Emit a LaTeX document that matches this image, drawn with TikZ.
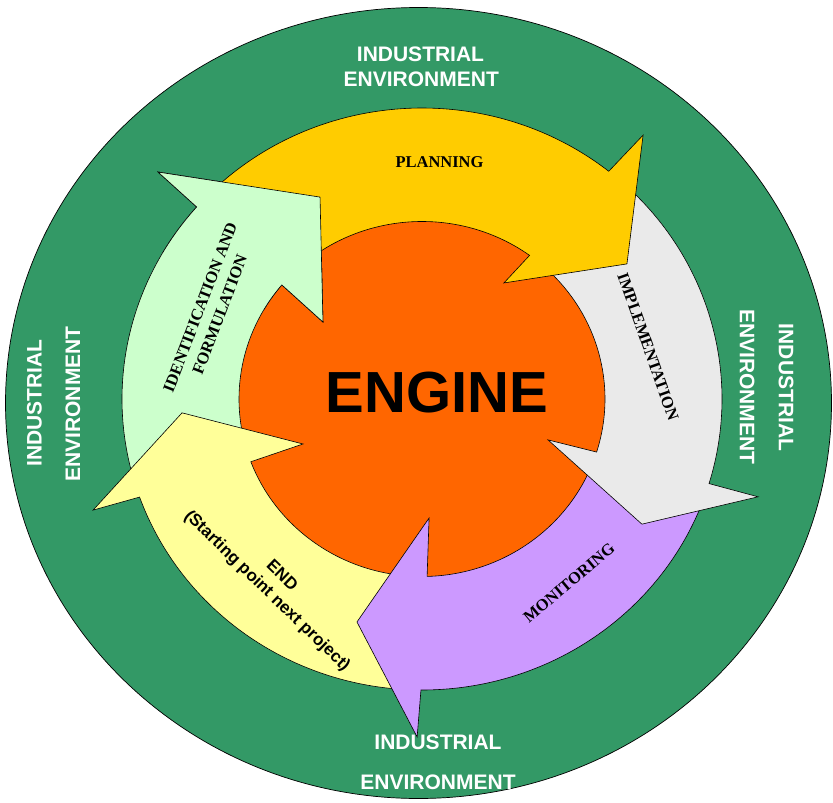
\documentclass[tikz,border=0pt]{standalone}
\usepackage{fontspec}
\setmainfont{Liberation Serif}
\setsansfont{Liberation Sans}
\definecolor{envgreen}{HTML}{339966}
\definecolor{engorange}{HTML}{FF6600}
\definecolor{planyellow}{HTML}{FFCC00}
\definecolor{implgray}{HTML}{EAEAEA}
\definecolor{monpurple}{HTML}{CC99FF}
\definecolor{endyellow}{HTML}{FFFF99}
\definecolor{idgreen}{HTML}{CCFFCC}
\tikzset{
  arrowshape/.style={draw=black, line width=0.6pt, line join=miter},
  envlabel/.style={text=white, font=\sffamily\bfseries\fontsize{21}{24}\selectfont, inner sep=0pt},
  steplabel/.style={font=\rmfamily\bfseries\fontsize{16.5}{21}\selectfont, inner sep=0pt, align=center},
  endlabel/.style={font=\sffamily\bfseries\fontsize{17}{21}\selectfont, inner sep=0pt, align=center}
}
\begin{document}
\begin{tikzpicture}[x=1pt,y=1pt]
\useasboundingbox (0,-803) rectangle (833,0);
% outer environment ring
\draw[fill=envgreen, line width=0.7pt] (418.5,-403) ellipse [x radius=413, y radius=395.5];
\begin{scope}[shift={(422,-399)}, yscale=0.97]
  % engine
  \draw[fill=engorange, line width=0.6pt] (0,0) circle[radius=184];
  % identification and formulation
  \path[arrowshape, fill=idgreen] (195:183) arc[start angle=195, end angle=140, radius=183]
    -- (141.3:126.9) -- (116.1:231.8) -- (138.45:352.8) -- (138.7:300)
    arc[start angle=138.7, end angle=195, radius=300] -- cycle;
  % end
  \path[arrowshape, fill=endyellow] (266:183) arc[start angle=266, end angle=200.7, radius=183]
    -- (201.3:127.7) -- (183.4:240.4) -- (199.2:348.3) -- (199.7:300)
    arc[start angle=199.7, end angle=266, radius=300] -- cycle;
  % monitoring
  \path[arrowshape, fill=monpurple] (-20:183) arc[start angle=-20, end angle=-88.4, radius=183]
    -- (-86.7:122.9) -- (-105.8:238.9) -- (-90.8:348.5) -- (-90.2:300)
    arc[start angle=-90.2, end angle=-20, radius=300] -- cycle;
  % implementation
  \path[arrowshape, fill=implgray] (47:183) arc[start angle=47, end angle=-17.4, radius=183]
    -- (-18.5:132.9) -- (-30.4:255) -- (-16.7:350.9) -- (-16.9:300)
    arc[start angle=-16.9, end angle=47, radius=300] -- cycle;
  % planning
  \path[arrowshape, fill=planyellow] (134:183) arc[start angle=134, end angle=54, radius=183]
    -- (55.6:145) -- (34.2:247.8) -- (50.9:350.6) -- (51.5:300)
    arc[start angle=51.5, end angle=134, radius=300] -- cycle;
  % head of identification arrow over the tail of planning
  \begin{scope}
    \clip (0,0) -- (150:420) arc[start angle=150, end angle=104, radius=420] -- cycle;
    \path[arrowshape, fill=idgreen] (195:183) arc[start angle=195, end angle=140, radius=183]
      -- (141.3:126.9) -- (116.1:231.8) -- (138.45:352.8) -- (138.7:300)
      arc[start angle=138.7, end angle=195, radius=300] -- cycle;
  \end{scope}
\end{scope}
% labels
\node[font=\sffamily\bfseries\fontsize{58}{60}\selectfont, inner sep=0pt] (engine) at (437,-392.5) {ENGINE};
\node[steplabel] (planning) at (439.5,-162.5) {PLANNING};
\node[steplabel, rotate=69] (ident) at (210,-311) {IDENTIFICATION AND\\FORMULATION};
\node[steplabel, rotate=-70.6] (impl) at (648,-346.5) {IMPLEMENTATION};
\node[steplabel, rotate=40] (monit) at (569,-583) {MONITORING};
\node[endlabel, rotate=-44] (endtxt) at (274,-584) {END\\(Starting point next project)};
% environment labels
\node[envlabel] (topind) at (420.5,-54.2) {INDUSTRIAL};
\node[envlabel] (topenv) at (421.3,-79.5) {ENVIRONMENT};
\node[envlabel] (botind) at (438,-742) {INDUSTRIAL};
\node[envlabel] (botenv) at (438,-782) {ENVIRONMENT};
\node[envlabel, rotate=90] (leftind) at (34.3,-403) {INDUSTRIAL};
\node[envlabel, rotate=90] (leftenv) at (73,-404) {ENVIRONMENT};
\node[envlabel, rotate=-90] (rightind) at (786,-387.5) {INDUSTRIAL};
\node[envlabel, rotate=-90] (rightenv) at (747,-386.7) {ENVIRONMENT};
\end{tikzpicture}
\end{document}
